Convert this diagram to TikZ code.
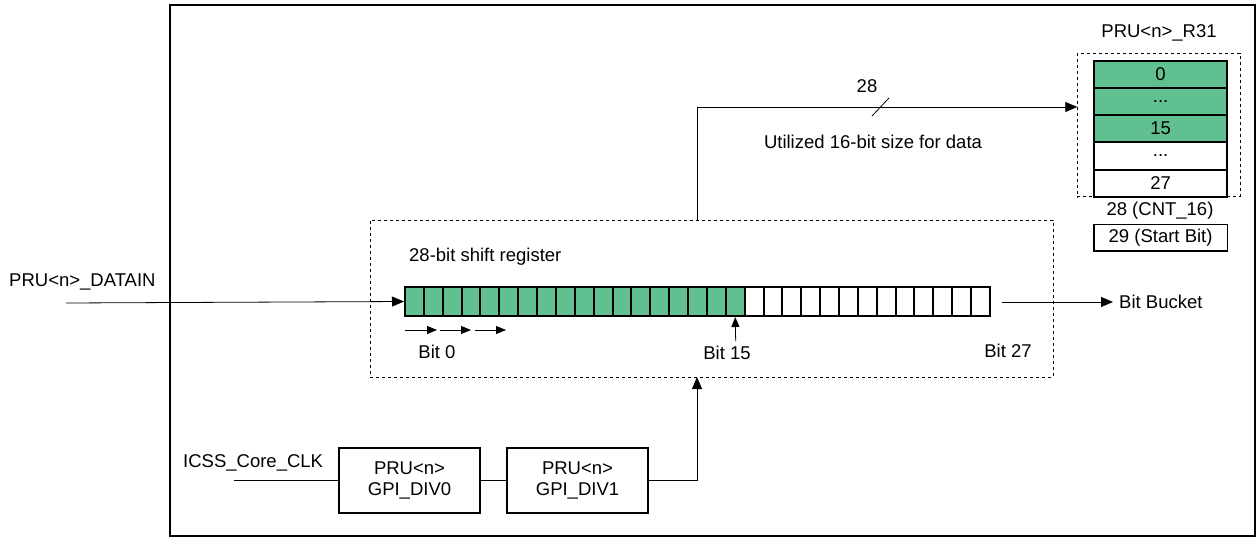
\documentclass[tikz,border=0pt]{standalone}
\usepackage{fontspec}
\setmainfont{Liberation Sans}
\usetikzlibrary{arrows.meta,calc}
\definecolor{regGreen}{RGB}{96,192,144}
\begin{document}
\begin{tikzpicture}[x=1pt,y=-1pt,
  every node/.style={font=\fontsize{18.5}{21}\selectfont, inner sep=0pt},
  cell/.style={draw=black, line width=2pt, minimum width=18.87pt, minimum height=29pt},
  rcell/.style={draw=black, line width=2pt, minimum width=133.3pt, minimum height=27.2pt},
  blk/.style={draw=black, line width=2pt, minimum width=140.5pt, minimum height=65pt, align=center},
  dbox/.style={draw=black, dashed, line width=0.6pt},
  conn/.style={draw=black, line width=0.8pt},
  arr/.style={conn, -{Triangle[length=12pt,width=10pt]}},
  sarr/.style={conn, -{Triangle[length=10pt,width=8pt]}}
]
\useasboundingbox (0,0) rectangle (1256,538);
% outer frame
\draw[line width=1.4pt] (170,5) rectangle (1255,536);

% shift register dashed box
\node[dbox, minimum width=683pt, minimum height=157pt] (sr) at (711.5,298.5) {};
\node[anchor=west] (srlbl) at (409,257) {28-bit shift register};

% cells
\foreach \i in {0,...,30} {
  \pgfmathsetmacro{\cx}{405+(\i+0.5)*18.87}
  \ifnum\i<18
    \node[cell, fill=regGreen] (c\i) at (\cx,301.5) {};
  \else
    \node[cell, fill=white] (c\i) at (\cx,301.5) {};
  \fi
}

% input
\node[anchor=west] (datain) at (9,282) {PRU<n>\_DATAIN};
\coordinate (inStart) at (66,303);
\draw[arr] (inStart) -- (c0.west);

% bit bucket
\node[anchor=west] (bucket) at (1119,302) {Bit Bucket};
\coordinate (bbStart) at (1002,302);
\draw[arr] (bbStart) -- ($(bucket.west)+(-6,0)$);

% small shift arrows
\coordinate (s0) at (405,330);
\coordinate (s1) at (437,330);
\coordinate (s2) at (440,330);
\coordinate (s3) at (471,330);
\coordinate (s4) at (475,330);
\coordinate (s5) at (506,330);
\draw[sarr] (s0) -- (s1);
\draw[sarr] (s2) -- (s3);
\draw[sarr] (s4) -- (s5);

% bit labels
\node (b0) at (437,352) {Bit 0};
\node (b15) at (727,353) {Bit 15};
\node (b27) at (1008,351) {Bit 27};
\coordinate (b15arr) at (735.7,341);
\draw[sarr] (b15arr) -- (c17.south);

% R31 register
\node (r31t) at (1159,33) {PRU<n>\_R31};
\node[dbox, minimum width=162.7pt, minimum height=143.4pt] (r31) at (1158.7,125) {};
\node[rcell, fill=regGreen] (r0) at (1160.6,74.3) {0};
\node[rcell, fill=regGreen] (r1) at (1160.6,101.5) {...};
\node[rcell, fill=regGreen] (r2) at (1160.6,128.7) {15};
\node[rcell, fill=white] (r3) at (1160.6,155.9) {...};
\node[rcell, fill=white] (r4) at (1160.6,183.1) {27};
\node (r28) at (1160,211) {28 (CNT\_16)};
\node[rcell, line width=1.4pt, minimum height=26.7pt] (r29) at (1160.6,237.7) {29 (Start Bit)};

% data path to R31
\coordinate (tap) at (697,220);
\coordinate (r31in) at (1077.3,107);
\draw[arr] (tap) |- (r31in);
\coordinate (sl1) at (872,116);
\coordinate (sl2) at (889,98);
\draw[conn] (sl1) -- (sl2);
\node (w28) at (867,86) {28};
\node (util) at (873,142) {Utilized 16-bit size for data};

% clock dividers
\node (clk) [anchor=west] at (183,463) {ICSS\_Core\_CLK};
\node[blk] (div0) at (409.5,480) {PRU<n>\\GPI\_DIV0};
\node[blk] (div1) at (577.5,480) {PRU<n>\\GPI\_DIV1};
\coordinate (clkStart) at (234,480);
\draw[conn] (clkStart) -- (div0.west);
\draw[conn] (div0.east) -- (div1.west);
\coordinate (srin) at (697,377);
\draw[arr] (div1.east) -| (srin);
\end{tikzpicture}
\end{document}
